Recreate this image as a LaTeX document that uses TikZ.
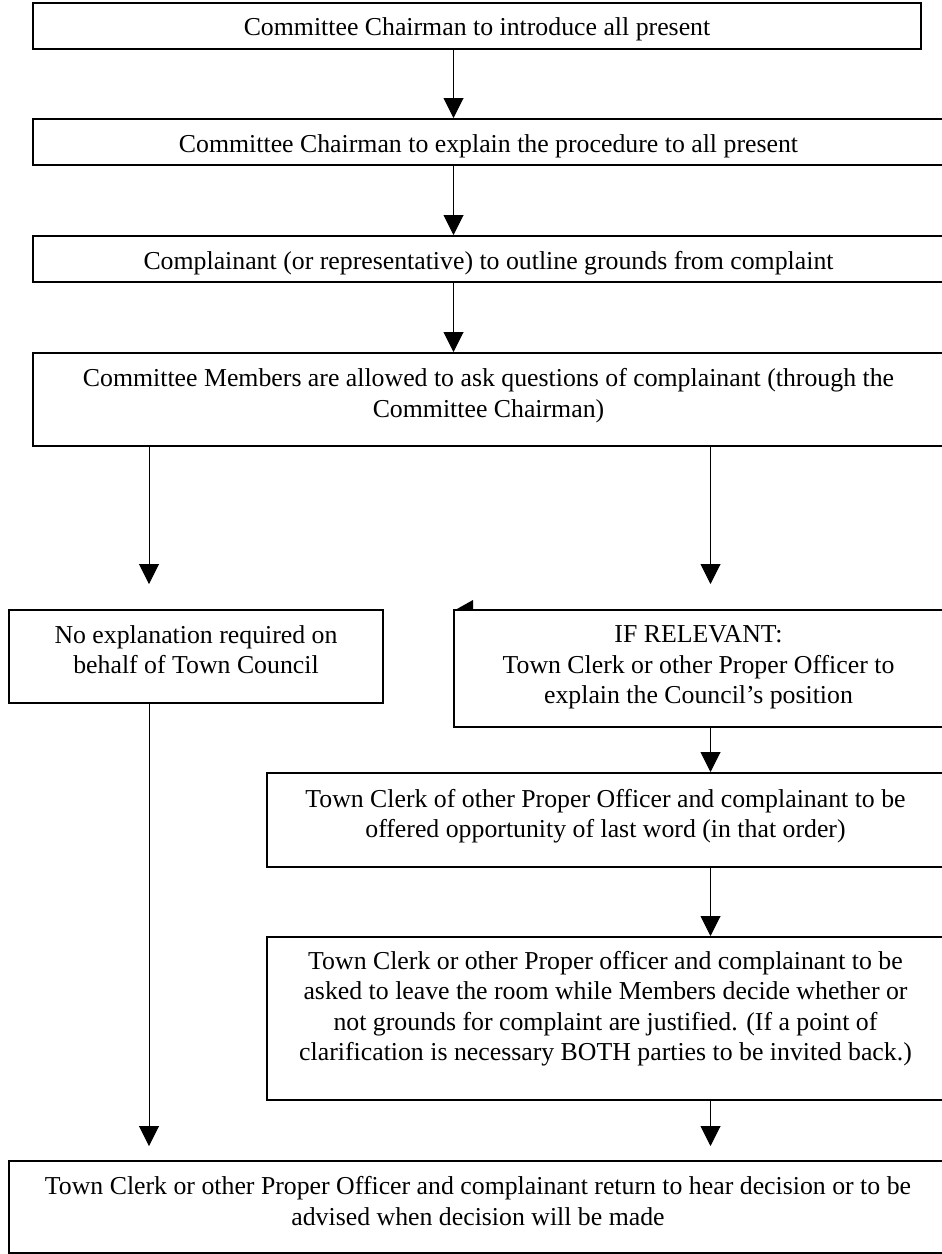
\documentclass[tikz,border=0pt]{standalone}
\usepackage{fontspec}
\setmainfont{Liberation Serif}
\usetikzlibrary{arrows.meta,fit}
\begin{document}
\begin{tikzpicture}[x=0.5pt,y=-0.5pt,
  box/.style={draw=black, line width=1pt, inner sep=0pt, rectangle},
  txt/.style={anchor=base, align=center, inner sep=0pt, font=\fontsize{12.9pt}{15.25pt}\selectfont},
  arr/.style={-{Triangle[width=10pt,length=10pt]}, line width=0.5pt}]
\useasboundingbox (0,0) rectangle (942,1254);
\clip (0,0) rectangle (942,1254);
% columns for connectors
\coordinate (c1) at (453.5,0);
\coordinate (cl) at (149,0);
\coordinate (cr) at (710.5,0);
% boxes
\node[box, fit={(33,2.5) (921,49)}] (b1) {};
\node[box, fit={(33,119) (944,165)}] (b2) {};
\node[box, fit={(33,236) (944,282)}] (b3) {};
\node[box, fit={(33,353) (944,446)}] (b4) {};
\node[box, fit={(9,610) (383,703)}] (b5l) {};
\node[box, fit={(453.5,610) (944,726.5)}] (b5r) {};
\node[box, fit={(267,773) (944,867)}] (b6) {};
\node[box, fit={(267,937) (944,1100)}] (b7) {};
\node[box, fit={(9,1161) (944,1253)}] (b8) {};
% texts (base anchor = baseline of the last line)
\node[txt] (t1) at (477,35.5) {Committee Chairman to introduce all present};
\node[txt] (t2) at (488.5,152.5) {Committee Chairman to explain the procedure to all present};
\node[txt] (t3) at (488.5,269) {Complainant (or representative) to outline grounds from complaint};
\node[txt] (t4) at (488.5,417) {Committee Members are allowed to ask questions of complainant (through the\\Committee Chairman)};
\node[txt] (t5l) at (196,673.5) {No explanation required on\\behalf of Town Council};
\node[txt] (t5r) at (698.5,703.5) {IF RELEVANT:\\Town Clerk or other Proper Officer to\\explain the Council’s position};
\node[txt] (t6) at (605.5,837.5) {Town Clerk of other Proper Officer and complainant to be\\offered opportunity of last word (in that order)};
\node[txt] (t7) at (605.5,1060.5) {Town Clerk or other Proper officer and complainant to be\\asked to leave the room while Members decide whether or\\not grounds for complaint are justified. (If a point of\\clarification is necessary BOTH parties to be invited back.)};
\node[txt] (t8) at (478,1225) {Town Clerk or other Proper Officer and complainant return to hear decision or to be\\advised when decision will be made};
% stray marker at corner of IF RELEVANT box
\fill[black] (456,609.5) -- (473,600) -- (473,609.5) -- cycle;
% connectors
\draw[arr] (b1.south -| c1) -- (b2.north -| c1);
\draw[arr] (b2.south -| c1) -- (b3.north -| c1);
\draw[arr] (b3.south -| c1) -- (b4.north -| c1);
\draw[arr, shorten >=12.5pt] (b4.south -| cl) -- (b5l.north -| cl);
\draw[arr, shorten >=12.5pt] (b4.south -| cr) -- (b5r.north -| cr);
\draw[arr] (b5r.south -| cr) -- (b6.north -| cr);
\draw[arr] (b6.south -| cr) -- (b7.north -| cr);
\draw[arr, shorten >=7pt] (b5l.south -| cl) -- (b8.north -| cl);
\draw[arr, shorten >=7pt] (b7.south -| cr) -- (b8.north -| cr);
\end{tikzpicture}
\end{document}
